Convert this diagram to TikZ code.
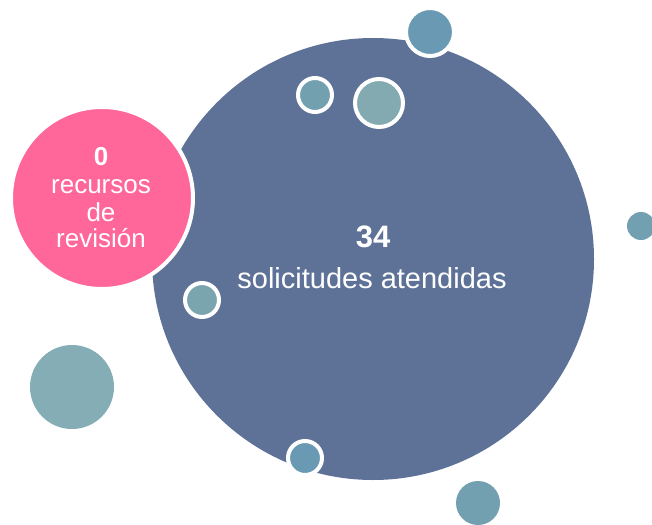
\documentclass[tikz,border=0pt]{standalone}
\usepackage{fontspec}
\setmainfont{Liberation Sans}
\definecolor{bigblue}{HTML}{5E7298}
\definecolor{pinkc}{HTML}{FF6699}
\definecolor{tealA}{HTML}{6A9AB3}
\definecolor{tealB}{HTML}{72A0AF}
\definecolor{tealC}{HTML}{84AAB1}
\definecolor{tealD}{HTML}{7AA5AF}
\definecolor{tealE}{HTML}{85ADB5}
\definecolor{tealF}{HTML}{73A0B1}
\tikzset{
  bubble/.style={circle, inner sep=0pt, draw=white, line width=4pt},
  plain/.style={circle, inner sep=0pt, draw=none},
}
\begin{document}
\begin{tikzpicture}[x=1pt,y=-1pt]
\useasboundingbox (0,0) rectangle (652,524);
% big circle
\node[plain, fill=bigblue, minimum size=442pt] (big) at (373,259) {};
% pink circle
\node[bubble, fill=pinkc, minimum size=182pt] (pink) at (102,198) {};
% small bubbles
\node[bubble, fill=tealA, minimum size=48pt] (b1) at (430,32) {};
\node[bubble, fill=tealB, minimum size=34pt] (b2) at (315,95) {};
\node[bubble, fill=tealC, minimum size=48pt] (b3) at (379,103) {};
\node[bubble, fill=tealD, minimum size=34pt] (b4) at (202,300) {};
\node[bubble, fill=tealA, minimum size=34pt] (b5) at (305,458) {};
\node[plain, fill=tealE, minimum size=84pt] (b6) at (72,387) {};
\node[plain, fill=tealF, minimum size=44pt] (b7) at (478,503) {};
\node[plain, fill=tealF, minimum size=28pt] (b8) at (641,226) {};
% texts
\node[text=white, font=\fontsize{31}{36}\selectfont\bfseries, anchor=base] (t34) at (373,247) {34};
\node[text=white, font=\fontsize{29}{34}\selectfont, anchor=base] (tsol) at (372,288) {solicitudes atendidas};
\node[text=white, font=\fontsize{26}{30}\selectfont\bfseries, anchor=base] (t0) at (101,165) {0};
\node[text=white, font=\fontsize{26}{27}\selectfont, anchor=base] (trec) at (101,193) {recursos};
\node[text=white, font=\fontsize{26}{27}\selectfont, anchor=base] (tde) at (101,221) {de};
\node[text=white, font=\fontsize{26}{27}\selectfont, anchor=base] (trev) at (101,247) {revisión};
\end{tikzpicture}
\end{document}
